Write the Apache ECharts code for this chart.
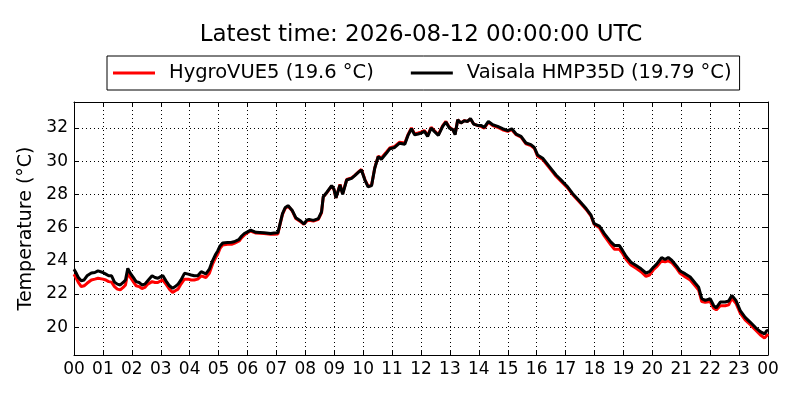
<!DOCTYPE html>
<html>
<head>
<meta charset="utf-8">
<script src="https://cdn.jsdelivr.net/npm/echarts@6/dist/echarts.min.js"></script>
<style>
html,body{margin:0;padding:0;background:#fff;}
#chart{width:800px;height:400px;}
</style>
</head>
<body>
<div id="chart"></div>
<script>
// ---- data (hours since 00 UTC) ----
const titleText = 'Latest time: 2026-08-12 00:00:00 UTC';
const seriesNames = ['HygroVUE5 (19.6 °C)', 'Vaisala HMP35D (19.79 °C)'];
const xTickLabels = ['00','01','02','03','04','05','06','07','08','09','10','11','12','13','14','15','16','17','18','19','20','21','22','23','00'];
const yTickValues = [20, 22, 24, 26, 28, 30, 32];

const hours = [
 0.00,0.08,0.15,0.25,0.35,0.45,0.60,0.72,0.83,1.00,1.10,1.20,1.30,1.40,1.50,1.60,1.70,1.78,1.86,1.95,
 2.05,2.15,2.25,2.35,2.45,2.55,2.70,2.80,2.90,3.00,3.07,3.18,3.30,3.41,3.50,3.60,3.70,3.82,3.95,4.05,
 4.16,4.28,4.40,4.45,4.56,4.68,4.79,4.90,4.97,5.05,5.14,5.31,5.45,5.54,5.71,5.80,5.89,6.00,6.11,6.29,
 6.57,6.80,6.92,7.05,7.12,7.21,7.30,7.40,7.55,7.67,7.84,7.95,8.05,8.13,8.28,8.45,8.56,8.62,8.74,8.91,
 8.99,9.06,9.20,9.29,9.43,9.60,9.71,9.86,9.94,10.06,10.17,10.29,10.40,10.52,10.63,10.80,10.92,11.09,11.26,11.44,
 11.55,11.67,11.78,11.90,12.00,12.12,12.23,12.35,12.46,12.60,12.75,12.86,12.98,13.10,13.18,13.27,13.38,13.50,13.61,13.71,
 13.82,13.96,14.07,14.19,14.33,14.48,14.65,14.82,15.00,15.14,15.29,15.46,15.63,15.80,15.92,16.03,16.21,16.44,16.67,16.90,
 17.07,17.24,17.48,17.71,17.88,17.99,18.17,18.34,18.57,18.69,18.86,18.97,19.09,19.26,19.44,19.61,19.78,19.90,20.03,20.15,
 20.32,20.44,20.55,20.67,20.84,20.96,21.13,21.31,21.48,21.60,21.71,21.83,22.00,22.12,22.21,22.35,22.52,22.64,22.75,22.89,
 23.04,23.21,23.39,23.56,23.73,23.88,23.96,24.00
];

const vaisala = [
 23.50,23.25,23.00,22.80,22.85,23.10,23.27,23.30,23.40,23.30,23.20,23.10,23.10,22.72,22.60,22.55,22.70,22.85,23.55,23.25,
 23.00,22.75,22.70,22.55,22.60,22.80,23.10,23.00,22.95,23.05,23.12,22.80,22.50,22.35,22.45,22.60,22.85,23.25,23.20,23.15,
 23.10,23.10,23.35,23.40,23.22,23.50,24.00,24.40,24.60,24.90,25.07,25.10,25.12,25.15,25.30,25.50,25.65,25.75,25.85,25.72,
 25.70,25.65,25.68,25.70,26.20,26.85,27.20,27.33,27.03,26.60,26.40,26.22,26.45,26.50,26.44,26.55,26.95,27.86,28.12,28.53,
 28.32,27.80,28.57,28.00,28.87,28.97,29.13,29.37,29.47,28.87,28.46,28.53,29.58,30.28,30.12,30.48,30.75,30.83,31.09,31.03,
 31.56,31.96,31.60,31.64,31.70,31.80,31.50,32.00,31.80,31.56,32.10,32.36,32.00,31.90,31.60,32.50,32.30,32.44,32.40,32.57,
 32.24,32.16,32.16,32.04,32.40,32.20,32.10,31.96,31.84,31.96,31.64,31.50,31.10,31.00,30.83,30.38,30.18,29.68,29.17,28.77,
 28.46,28.06,27.60,27.15,26.75,26.24,26.10,25.64,25.13,24.93,24.93,24.63,24.28,23.92,23.72,23.52,23.27,23.35,23.60,23.80,
 24.20,24.08,24.20,24.04,23.68,23.39,23.23,23.03,22.67,22.42,21.72,21.62,21.72,21.31,21.17,21.52,21.52,21.58,21.92,21.62,
 21.00,20.60,20.30,20.00,19.74,19.60,19.80,19.79
];

const hygro = [
 23.20,22.95,22.70,22.45,22.50,22.65,22.85,22.90,22.95,22.90,22.85,22.75,22.72,22.45,22.30,22.25,22.40,22.55,23.30,23.00,
 22.75,22.50,22.45,22.33,22.40,22.60,22.75,22.70,22.70,22.80,22.85,22.60,22.30,22.10,22.20,22.30,22.60,22.90,22.90,22.85,
 22.85,22.90,23.10,23.15,23.00,23.25,23.80,24.20,24.40,24.75,24.95,25.00,25.00,25.05,25.20,25.40,25.55,25.70,25.80,25.68,
 25.65,25.60,25.60,25.62,26.15,26.80,27.15,27.30,27.00,26.55,26.35,26.20,26.40,26.45,26.40,26.50,26.90,27.85,28.10,28.50,
 28.30,27.80,28.60,28.05,28.90,29.00,29.15,29.40,29.50,28.90,28.50,28.55,29.60,30.30,30.20,30.55,30.80,30.90,31.15,31.10,
 31.60,32.00,31.65,31.70,31.75,31.85,31.55,32.05,31.85,31.60,32.15,32.40,32.05,31.90,31.65,32.50,32.30,32.45,32.40,32.55,
 32.25,32.15,32.10,32.00,32.35,32.15,32.05,31.90,31.80,31.90,31.60,31.45,31.05,30.95,30.78,30.30,30.10,29.60,29.10,28.70,
 28.40,28.00,27.55,27.10,26.70,26.20,26.00,25.50,24.95,24.70,24.70,24.45,24.10,23.75,23.55,23.35,23.07,23.15,23.45,23.65,
 24.00,23.94,24.00,23.90,23.55,23.25,23.05,22.85,22.50,22.25,21.55,21.50,21.55,21.15,21.05,21.30,21.30,21.35,21.75,21.45,
 20.85,20.45,20.15,19.85,19.55,19.35,19.50,19.60
];

// ---- chart ----
const FONT = 'DejaVu Sans';
const chart = echarts.init(document.getElementById('chart'), null, {renderer: 'canvas'});
const pairs = (xs, ys) => xs.map((x, i) => [x, ys[i]]);
const yFmt = v => {
  const r = Math.round(v * 1000) / 1000;
  return yTickValues.indexOf(r) >= 0 ? String(r) : '';
};
const xFmt = v => {
  const i = Math.round(v);
  return Math.abs(v - i) < 1e-6 && xTickLabels[i] !== undefined ? xTickLabels[i] : '';
};
const tick = {show: true, inside: true, length: 5, lineStyle: {color: '#000', width: 1}};
const line = {show: true, onZero: false, lineStyle: {color: '#000', width: 1}};
const grid = {show: true, lineStyle: {color: '#000', width: 1, type: [1, 3]}};

chart.setOption({
  animation: false,
  backgroundColor: '#fff',
  graphic: [{
    type: 'text', x: 421, y: 35,
    style: {text: titleText, font: '23px "' + FONT + '"', fill: '#000', align: 'center', verticalAlign: 'middle'}
  }],
  legend: {
    left: 107, top: 56,
    padding: [7, 8, 7, 6],
    borderColor: '#000', borderWidth: 1,
    icon: 'rect', itemWidth: 42, itemHeight: 3, itemGap: 37,
    textStyle: {fontFamily: FONT, fontSize: 19.5, color: '#000', padding: [0, 0, 0, 9]},
    data: seriesNames
  },
  grid: {left: 74, right: 32, top: 102, bottom: 45, containLabel: false, show: false},
  xAxis: [{
    type: 'value', min: 0, max: 24, interval: 1,
    axisLine: line, axisTick: tick, splitLine: grid,
    axisLabel: {formatter: xFmt, fontFamily: FONT, fontSize: 17, color: '#000', margin: 6, hideOverlap: false}
  }, {
    type: 'value', min: 0, max: 24, interval: 1, position: 'top',
    axisLine: line, axisTick: tick, splitLine: {show: false}, axisLabel: {show: false}
  }],
  yAxis: [{
    type: 'value', min: 18.33, max: 33.57, splitNumber: 7, minInterval: 2, maxInterval: 2,
    name: 'Temperature (°C)', nameLocation: 'middle', nameRotate: 90, nameGap: 34,
    nameTextStyle: {fontFamily: FONT, fontSize: 19, color: '#000'},
    axisLine: line, axisTick: tick, splitLine: grid,
    axisLabel: {formatter: yFmt, fontFamily: FONT, fontSize: 17, color: '#000', margin: 6}
  }, {
    type: 'value', min: 18.33, max: 33.57, splitNumber: 7, minInterval: 2, maxInterval: 2, position: 'right',
    axisLine: line, axisTick: tick, splitLine: {show: false}, axisLabel: {show: false}
  }],
  series: [{
    name: seriesNames[0], type: 'line', data: pairs(hours, hygro),
    showSymbol: false, color: '#ff0000', lineStyle: {color: '#ff0000', width: 3}, z: 2
  }, {
    name: seriesNames[1], type: 'line', data: pairs(hours, vaisala),
    showSymbol: false, color: '#000000', lineStyle: {color: '#000000', width: 3}, z: 3
  }]
});
</script>
</body>
</html>
